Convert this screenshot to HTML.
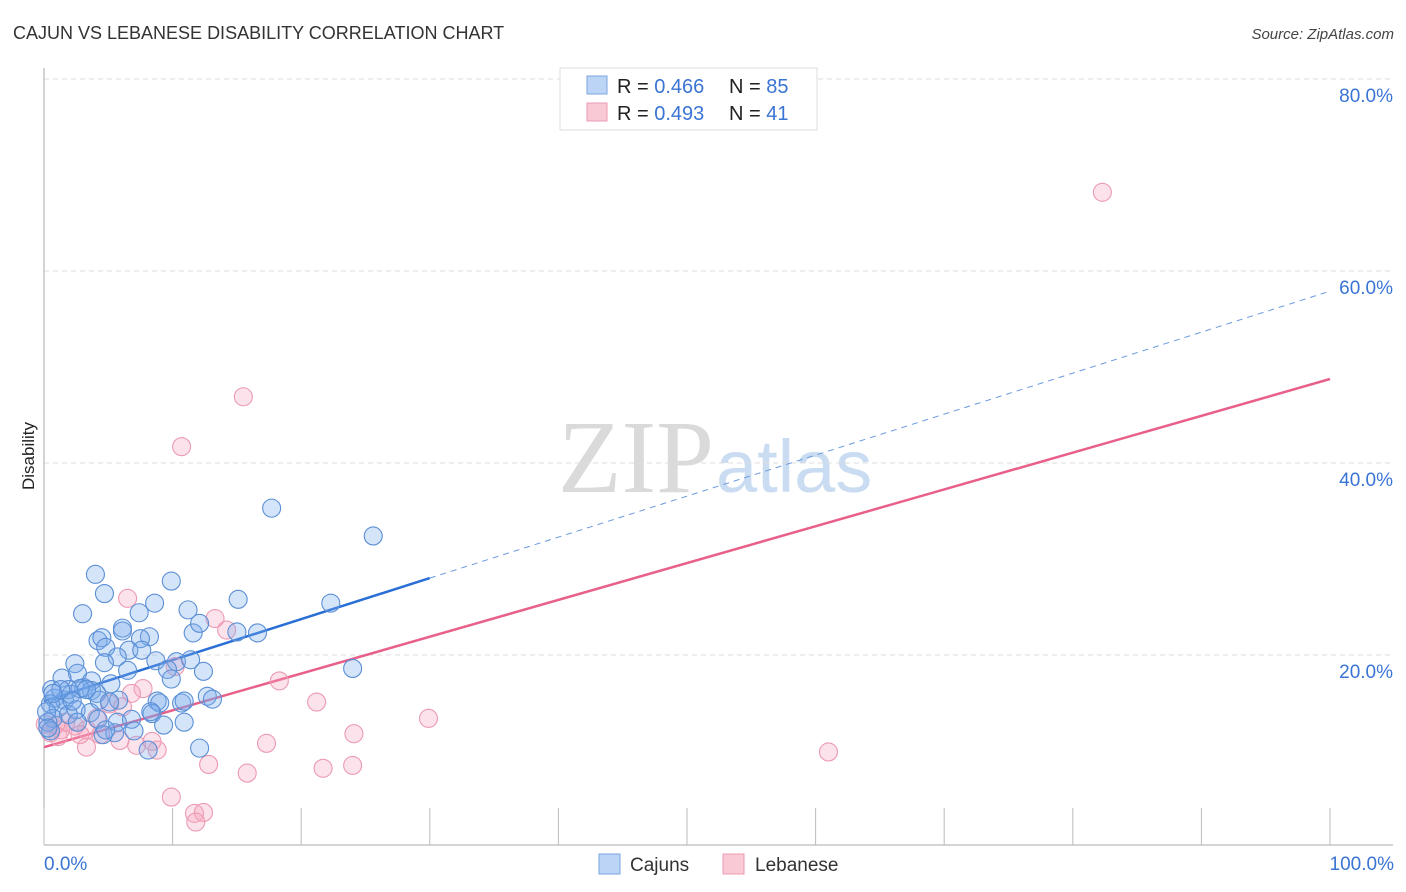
<!DOCTYPE html>
<html><head><meta charset="utf-8"><style>
body{margin:0;background:#fff;font-family:"Liberation Sans",sans-serif;}
svg{display:block}
</style></head><body>
<svg id="chart" width="1406" height="892" xmlns="http://www.w3.org/2000/svg">
<text x="13" y="39" font-size="18" fill="#333">CAJUN VS LEBANESE DISABILITY CORRELATION CHART</text>
<text x="1394" y="39" font-size="15" font-style="italic" fill="#444" text-anchor="end">Source: ZipAtlas.com</text>
<text x="714" y="492" font-size="104" font-family="Liberation Serif,serif" fill="#dadada" text-anchor="end">ZIP</text>
<text x="716" y="492" font-size="74" fill="#cadcf1">atlas</text>
<text transform="translate(34,456) rotate(-90)" font-size="17" fill="#222" text-anchor="middle">Disability</text>
<g id="grid"></g><g id="axes"></g><g id="lines"></g><g id="pts"></g>
<g>
<rect x="560" y="68" width="257" height="62" fill="#fff" stroke="#ddd"/>
<rect x="587" y="76" width="20" height="18" fill="#bcd4f5" stroke="#7aa5e0"/>
<rect x="587" y="103" width="20" height="18" fill="#f9c9d6" stroke="#eb9ab2"/>
<text x="617" y="93" font-size="20" fill="#222">R = <tspan fill="#3a74d4">0.466</tspan></text>
<text x="729" y="93" font-size="20" fill="#222">N = <tspan fill="#3a74d4">85</tspan></text>
<text x="617" y="120" font-size="20" fill="#222">R = <tspan fill="#3a74d4">0.493</tspan></text>
<text x="729" y="120" font-size="20" fill="#222">N = <tspan fill="#3a74d4"> 41</tspan></text>
</g>
<g>
<rect x="599" y="854" width="21" height="20" fill="#bcd4f5" stroke="#7aa5e0"/>
<text x="630" y="871" font-size="19" fill="#333">Cajuns</text>
<rect x="723" y="854" width="21" height="20" fill="#f9c9d6" stroke="#eb9ab2"/>
<text x="755" y="871" font-size="19" fill="#333">Lebanese</text>
</g>
</svg>
<script>
const yTicks=[20,40,60,80];
const yTickLabels=["20.0%","40.0%","60.0%","80.0%"];
const xTicks=[0,10,20,30,40,50,60,70,80,90,100];
const cajunX=[4.0,9.9,4.7,8.6,3.0,7.4,11.2,15.1,22.3,17.7,25.6,6.1,8.2,6.1,4.2,4.5,7.5,11.6,12.1,15.0,16.6,4.8,6.6,7.6,5.7,2.4,4.7,8.7,10.3,11.4,9.6,12.4,24.0,2.6,6.5,1.4,3.7,5.2,9.9,0.6,1.9,3.1,3.7,0.8,1.6,2.1,4.1,2.8,0.5,1.1,2.5,1.9,3.6,12.7,13.1,8.8,9.0,10.7,10.9,8.4,6.8,4.2,0.7,5.7,2.6,8.3,9.3,10.9,0.3,0.5,5.5,4.6,7.0,12.1,8.1,0.2,4.8,0.3,1.3,3.3,4.3,5.8,0.7,2.2,5.1];
const cajunY=[28.4,27.7,26.4,25.4,24.3,24.4,24.7,25.8,25.4,35.3,32.4,22.8,21.9,22.5,21.5,21.8,21.7,22.3,23.3,22.4,22.3,20.8,20.5,20.5,19.8,19.1,19.2,19.4,19.3,19.5,18.5,18.3,18.6,18.1,18.4,17.6,17.3,17.0,17.5,16.4,16.4,16.6,16.3,15.5,15.3,15.9,16.0,16.5,14.9,14.5,14.3,13.8,14.0,15.7,15.4,15.2,15.0,15.0,15.2,13.9,13.3,13.3,13.4,13.0,13.0,14.1,12.7,13.0,13.0,12.1,11.9,11.7,12.1,10.3,10.1,14.1,12.2,12.4,16.4,16.4,15.3,15.3,16.0,15.2,15.1];
const lebX=[82.3,15.5,10.7,6.5,13.3,14.2,10.2,18.3,7.7,6.8,21.2,6.1,4.1,29.9,24.1,1.7,3.3,1.3,0.5,1.1,4.4,17.3,7.2,8.8,8.4,61.0,3.3,12.8,15.8,21.7,24.0,9.9,11.7,12.4,11.8,5.1,2.4,0.1,5.9,0.9,2.8];
const lebY=[68.2,46.9,41.7,25.9,23.8,22.6,18.8,17.3,16.5,16.0,15.1,14.6,13.4,13.4,11.8,13.0,12.2,12.2,11.9,11.5,11.7,10.8,10.6,10.1,11.0,9.9,10.4,8.6,7.7,8.2,8.5,5.2,3.5,3.6,2.6,14.9,12.6,12.8,11.1,12.7,11.7];
const cajunTrend=[15.2,57.9];
const lebTrend=[10.4,48.75];
const cajunSolidEnd=30;

const NS="http://www.w3.org/2000/svg";
const X=v=>44+v*12.86, Y=v=>847-v*9.6;
function mk(p,t,a){const e=document.createElementNS(NS,t);for(const k in a)e.setAttribute(k,a[k]);document.getElementById(p).appendChild(e);return e;}
yTicks.forEach((t,i)=>{
 const g=mk('grid','line',{x1:44,x2:1393,y1:Y(t),y2:Y(t),stroke:'#ddd','stroke-dasharray':'5,4'});
 
 
 const l=mk('grid','text',{x:1393,y:Y(t)+23,'font-size':19,fill:'#3a74d4','text-anchor':'end'});
 l.textContent=yTickLabels[i];
 
 
});
const ax=mk('axes','line',{x1:44,x2:44,y1:68,y2:845,stroke:'#aaa'});


const bx=mk('axes','line',{x1:44,x2:1393,y1:845,y2:845,stroke:'#aaa'});


xTicks.forEach(t=>{
 const k=mk('axes','line',{x1:X(t),x2:X(t),y1:808,y2:845,stroke:'#bbb'});
 
 
});
const xl0=mk('axes','text',{x:44,y:870,'font-size':19,fill:'#3a74d4'});xl0.textContent="0.0%";


const xl1=mk('axes','text',{x:1394,y:870,'font-size':19,fill:'#3a74d4','text-anchor':'end'});xl1.textContent="100.0%";


function pts(xs,ys,fill,stroke,name){xs.forEach((x,i)=>{
 const c=mk('pts','circle',{cx:X(x),cy:Y(ys[i]),r:9,fill:fill,stroke:stroke,'stroke-width':1.1});
 
 
});}
pts(lebX,lebY,'rgba(245,165,190,0.32)','#ec9ab3','lebanese-point');
pts(cajunX,cajunY,'rgba(120,170,235,0.32)','#5b8fd6','cajun-point');
const ty=(tr,x)=>tr[0]+(tr[1]-tr[0])*x/100;
const l1=mk('lines','line',{x1:X(0),y1:Y(ty(cajunTrend,0)),x2:X(cajunSolidEnd),y2:Y(ty(cajunTrend,cajunSolidEnd)),stroke:'#2a6fd6','stroke-width':2.5});


const l2=mk('lines','line',{x1:X(cajunSolidEnd),y1:Y(ty(cajunTrend,cajunSolidEnd)),x2:X(100),y2:Y(ty(cajunTrend,100)),stroke:'#6a9ae0','stroke-width':1,'stroke-dasharray':'6,5'});


const l3=mk('lines','line',{x1:X(0),y1:Y(ty(lebTrend,0)),x2:X(100),y2:Y(ty(lebTrend,100)),stroke:'#e8608a','stroke-width':2.5});


</script>
</body></html>
